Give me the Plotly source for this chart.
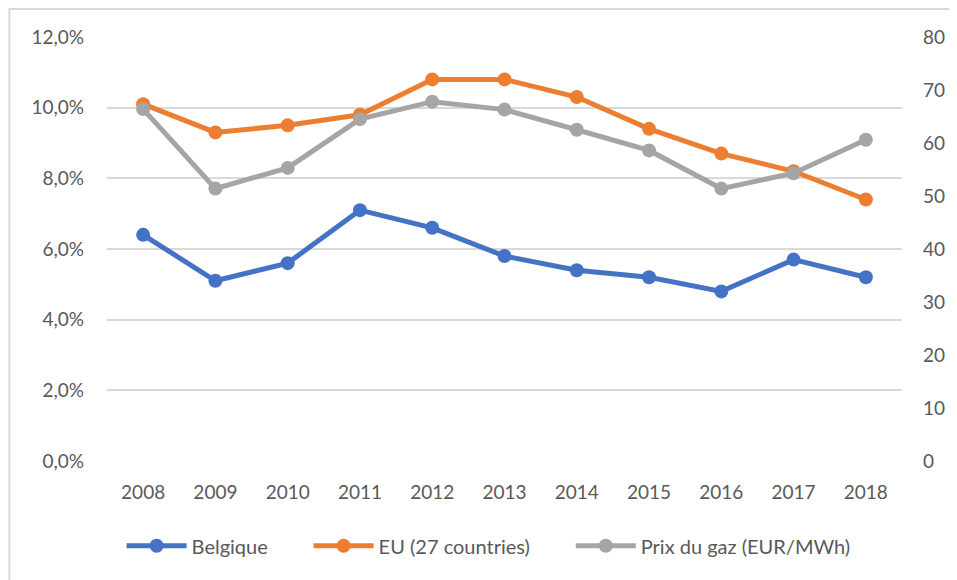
import plotly.graph_objects as go

years = ['2008', '2009', '2010', '2011', '2012', '2013', '2014', '2015', '2016', '2017', '2018']
belgique = [0.064, 0.051, 0.056, 0.071, 0.066, 0.058, 0.054, 0.052, 0.048, 0.057, 0.052]
eu27 = [0.101, 0.093, 0.095, 0.098, 0.108, 0.108, 0.103, 0.094, 0.087, 0.082, 0.074]
prix_gaz = [66.4, 51.4, 55.3, 64.5, 67.8, 66.3, 62.5, 58.6, 51.4, 54.3, 60.6]

FONT = 'Lato'
GREY_TXT = '#595959'
PAD = '\u00a0' * 7  # extra room between legend entries

fig = go.Figure()

fig.add_trace(go.Scatter(
    x=years, y=belgique, name='Belgique' + PAD,
    mode='lines+markers',
    line=dict(color='#4472C4', width=5),
    marker=dict(size=14, color='#4472C4'),
))
fig.add_trace(go.Scatter(
    x=years, y=eu27, name='EU (27 countries)' + PAD,
    mode='lines+markers',
    line=dict(color='#ED7D31', width=5),
    marker=dict(size=14, color='#ED7D31'),
))
fig.add_trace(go.Scatter(
    x=years, y=prix_gaz, name='Prix du gaz (EUR/MWh)',
    mode='lines+markers', yaxis='y2',
    line=dict(color='#A5A5A5', width=5),
    marker=dict(size=14, color='#A5A5A5'),
))

# outer chart border (left and top edges visible in the frame)
fig.add_shape(type='rect', xref='paper', yref='paper',
              x0=-0.1228, x1=1.2, y0=-0.5, y1=1.066,
              line=dict(color='#D9D9D9', width=2), layer='below')

# page body has an 8px margin, so the figure is sized to fit inside it
fig.update_layout(
    width=949, height=572,
    margin=dict(l=99, r=52, t=29, b=119),
    paper_bgcolor='white',
    plot_bgcolor='white',
    separators=', ',
    font=dict(family=FONT, size=19, color=GREY_TXT),
    xaxis=dict(
        type='category', range=[-0.5, 10.5],
        showgrid=False, zeroline=False, showline=False,
        ticks='', ticklabelstandoff=18,
        tickfont=dict(family=FONT, size=19, color=GREY_TXT),
    ),
    yaxis=dict(
        range=[0, 0.12], dtick=0.02, tickformat='.1%',
        showgrid=True, gridcolor='#D9D9D9', gridwidth=1.5,
        zeroline=False, showline=False, ticks='',
        ticklabelstandoff=22,
        tickfont=dict(family=FONT, size=19, color=GREY_TXT),
    ),
    yaxis2=dict(
        range=[0, 80], dtick=10, overlaying='y', side='right',
        showgrid=False, zeroline=False, showline=False, ticks='',
        ticklabelstandoff=20,
        tickfont=dict(family=FONT, size=19, color=GREY_TXT),
    ),
    legend=dict(
        orientation='h', x=0.48, xanchor='center',
        y=-0.2, yanchor='middle',
        font=dict(family=FONT, size=20, color=GREY_TXT),
        itemwidth=60, tracegroupgap=0,
    ),
)

fig.write_html("out.html")
